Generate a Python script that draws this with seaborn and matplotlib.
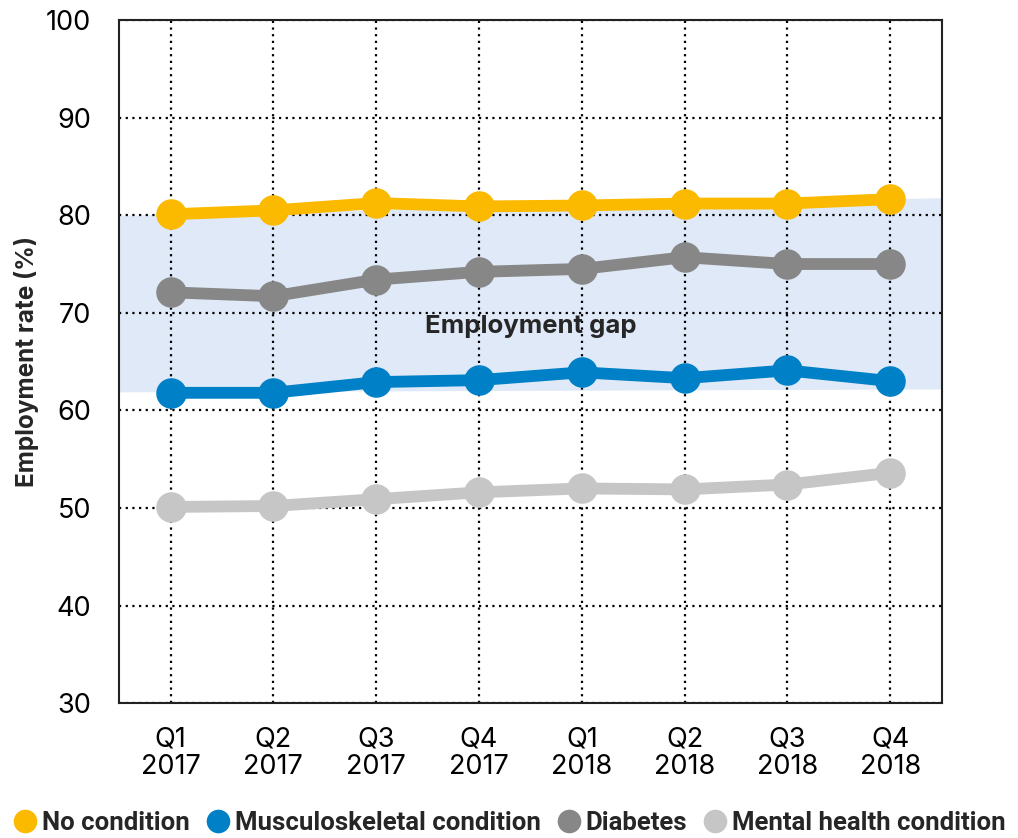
import matplotlib
matplotlib.use("Agg")
import matplotlib.pyplot as plt
from matplotlib.lines import Line2D
import seaborn as sns
import pandas as pd

quarters = ["Q1\n2017", "Q2\n2017", "Q3\n2017", "Q4\n2017",
            "Q1\n2018", "Q2\n2018", "Q3\n2018", "Q4\n2018"]
series_names = ["No condition", "Musculoskeletal condition", "Diabetes", "Mental health condition"]
no_condition = [80.1, 80.5, 81.25, 80.9, 81.0, 81.2, 81.2, 81.65]
musculoskeletal = [61.8, 61.8, 62.9, 63.1, 63.9, 63.3, 64.1, 63.0]
diabetes = [72.1, 71.7, 73.4, 74.2, 74.5, 75.7, 75.0, 75.0]
mental_health = [50.1, 50.2, 50.9, 51.6, 52.0, 51.9, 52.4, 53.6]
gap_upper = [80.0, 81.8]
gap_lower = [61.9, 62.2]
colors = ["#FBB900", "#0080C6", "#878787", "#C6C6C6"]

sns.set_theme(style="white")
plt.rcParams['font.family'] = ['Inter', 'DejaVu Sans']

rows = []
for name, vals in zip(series_names, [no_condition, musculoskeletal, diabetes, mental_health]):
    for i, v in enumerate(vals):
        rows.append({"x": i, "series": name, "value": v})
df = pd.DataFrame(rows)

fig = plt.figure(figsize=(10.18, 8.38), dpi=100)
ax = fig.add_axes([0.117, 0.161, 0.808, 0.815])

ax.fill_between([-0.5, 7.5], gap_lower, gap_upper, color="#DFE9F7", zorder=0.3, linewidth=0)

sns.lineplot(data=df, x="x", y="value", hue="series", hue_order=series_names,
             palette=colors, marker="o", markersize=22, markeredgewidth=0,
             linewidth=8.5, ax=ax, legend=False, zorder=3)

ax.set_xlim(-0.5, 7.5)
ax.set_ylim(30, 100)
ax.set_yticks(range(30, 101, 10))
ax.set_xticks(range(len(quarters)))
ax.set_xticklabels(quarters, linespacing=1.05)
ax.tick_params(axis="both", labelsize=19.5, length=0, colors="black")
ax.tick_params(axis="x", pad=17)
ax.tick_params(axis="y", pad=20)
ax.set_axisbelow(True)
ax.grid(True, linestyle=(0, (1, 2)), color="black", linewidth=1.6, zorder=0.5)
for s in ax.spines.values():
    s.set_color("#222222")
    s.set_linewidth(1.5)
ax.set_xlabel("")
ax.set_ylabel("Employment rate (%)", fontsize=17.5, fontweight="bold", labelpad=5)

ax.text(3.5, 68.6, "Employment gap", fontsize=18.5, fontweight="bold", ha="center", va="center", zorder=4)

handles = [Line2D([], [], marker="o", linestyle="", markersize=17, color=c, markeredgewidth=0) for c in colors]
fig.legend(handles, series_names, loc="lower center", bbox_to_anchor=(0.5, -0.024), ncol=4,
           frameon=False, handletextpad=0.15, columnspacing=0.6, handlelength=1.0,
           prop={"family": ["Roboto", "DejaVu Sans"], "weight": "bold", "size": 18.5})

fig.savefig("out.png", dpi=100)
